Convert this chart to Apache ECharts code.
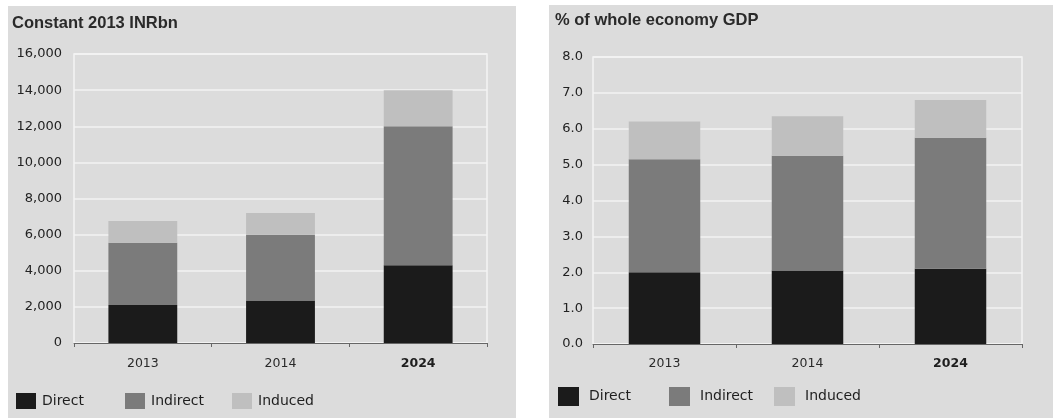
<!DOCTYPE html>
<html>
<head>
<meta charset="utf-8">
<script src="https://cdn.jsdelivr.net/npm/echarts@6/dist/echarts.min.js"></script>
<style>
  html, body { margin: 0; padding: 0; background: #ffffff; }
  body { width: 1053px; height: 418px; position: relative; overflow: hidden; }
  .panel { position: absolute; background: #dcdcdc; }
  #left { left: 8px; top: 6px; width: 508px; height: 412px; }
  #right { left: 549px; top: 5px; width: 504px; height: 413px; }
</style>
</head>
<body>
<div id="left" class="panel"></div>
<div id="right" class="panel"></div>
<script>
// Categories shared by both panels
const years = ['2013', '2014', '2024'];
const seriesNames = ['Direct', 'Indirect', 'Induced'];
const seriesColors = ['#1b1b1b', '#7b7b7b', '#bfbfbf'];

// Contribution in constant 2013 INR bn
const inrDirect = [2100, 2350, 4300];
const inrIndirect = [3450, 3650, 7700];
const inrInduced = [1200, 1200, 2000];

// Contribution as % of whole economy GDP
const gdpDirect = [2.0, 2.05, 2.1];
const gdpIndirect = [3.15, 3.2, 3.65];
const gdpInduced = [1.05, 1.1, 1.05];

// Axis tick settings
const inrMax = 16000, inrStep = 2000;
const gdpMax = 8, gdpStep = 1;

const textFont = 'DejaVu Sans, Verdana, sans-serif';
const titleFont = 'Liberation Sans, Arial, sans-serif';

function categoryAxis(margin) {
  return {
    type: 'category',
    data: years.map(y => y === '2024'
      ? { value: y, textStyle: { fontWeight: 'bold', color: '#1e1e1e' } }
      : y),
    axisLine: { show: true, lineStyle: { color: '#666', width: 1 } },
    axisTick: { show: true, alignWithLabel: false, length: 4, lineStyle: { color: '#666' } },
    axisLabel: { color: '#2a2a2a', fontFamily: textFont, fontSize: 12.5, margin: margin },
    splitLine: { show: false }
  };
}

function valueAxis(max, step, fmt, margin) {
  return {
    type: 'value',
    min: 0, max: max, interval: step,
    axisLine: { show: false },
    axisTick: { show: false },
    axisLabel: { color: '#222', fontFamily: textFont, fontSize: 13, margin: margin, formatter: fmt },
    splitLine: { show: true, lineStyle: { color: '#f3f3f3', width: 1.5 } }
  };
}

function stackSeries(values) {
  return seriesNames.map((name, i) => ({
    name: name,
    type: 'bar',
    stack: 'total',
    barWidth: '50%',
    data: values[i],
    itemStyle: { color: seriesColors[i] },
    emphasis: { disabled: true }
  }));
}

function legends(xs, top, w, h, textPad) {
  return seriesNames.map((name, i) => ({
    data: [name],
    left: xs[i], top: top,
    padding: 0,
    icon: 'rect',
    itemWidth: w, itemHeight: h,
    itemGap: 0,
    selectedMode: false,
    textStyle: { color: '#1e1e1e', fontFamily: textFont, fontSize: 14, padding: [0, 0, 0, textPad] }
  }));
}

const leftChart = echarts.init(document.getElementById('left'), null, { renderer: 'canvas' });
leftChart.setOption({
  animation: false,
  backgroundColor: '#dcdcdc',
  color: seriesColors,
  title: {
    text: 'Constant 2013 INRbn',
    left: 4, top: 9, padding: 0,
    textStyle: { color: '#2a2a2a', fontFamily: titleFont, fontSize: 16.5, fontWeight: 'bold' }
  },
  grid: { left: 66, top: 48, width: 413, height: 289, show: true, borderColor: '#f3f3f3', borderWidth: 1.5, backgroundColor: 'transparent' },
  xAxis: categoryAxis(14),
  yAxis: valueAxis(inrMax, inrStep, v => v.toLocaleString('en-US'), 12),
  legend: legends([8, 117, 224], 387, 20, 16, 1),
  series: stackSeries([inrDirect, inrIndirect, inrInduced])
});

const rightChart = echarts.init(document.getElementById('right'), null, { renderer: 'canvas' });
rightChart.setOption({
  animation: false,
  backgroundColor: '#dcdcdc',
  color: seriesColors,
  title: {
    text: '% of whole economy GDP',
    left: 6, top: 7, padding: 0,
    textStyle: { color: '#2a2a2a', fontFamily: titleFont, fontSize: 16.5, fontWeight: 'bold' }
  },
  grid: { left: 44, top: 52, width: 429, height: 287, show: true, borderColor: '#f3f3f3', borderWidth: 1.5, backgroundColor: 'transparent' },
  xAxis: categoryAxis(13),
  yAxis: valueAxis(gdpMax, gdpStep, v => v.toFixed(1), 10),
  legend: legends([9, 120, 225], 382, 21, 19, 5),
  series: stackSeries([gdpDirect, gdpIndirect, gdpInduced])
});
</script>
</body>
</html>
